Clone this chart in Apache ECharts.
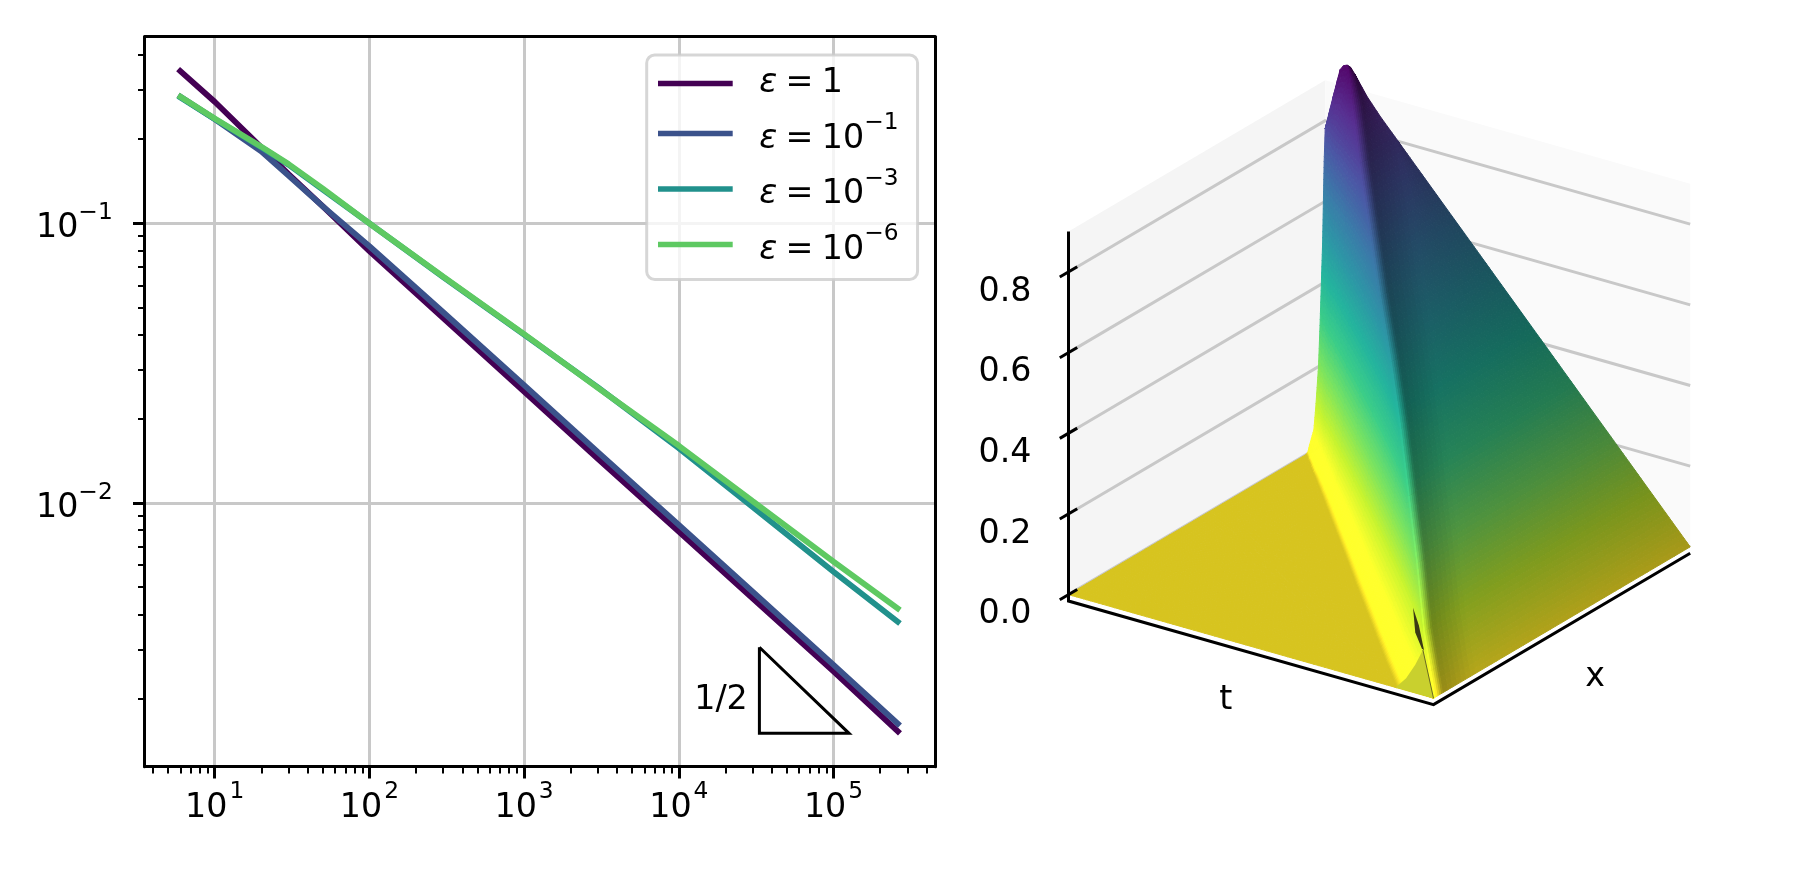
<!DOCTYPE html>
<html><head><meta charset="utf-8">
<style>html,body{margin:0;padding:0;background:#fff}#c{width:1800px;height:875px}</style>
<script src="https://cdn.jsdelivr.net/npm/echarts@6/dist/echarts.min.js"></script>
</head><body><div id="c"></div>
<script>
// ---- left panel data
var sampleX = [5.8,10,20,30,50,100,300,1000,3000,10000,30000,100000,269000];
var eps1 = [.356,.272,.187,.15,.115,.0796,.0458,.0250,.0144,.0079,.00456,.0025,.00150];
var eps1e1 = [.287,.236,.181,.148,.115,.0828,.0481,.0264,.0152,.00835,.00482,.00264,.0016];
var eps1e3 = [.285,.236,.187,.162,.132,.1,.0642,.04,.0259,.0157,.00968,.00568,.00371];
var eps1e6 = [.287,.237,.188,.163,.133,.1,.0645,.0402,.0258,.01603,.01016,.00617,.00414];
var seriesNames = ['e0','e1','e3','e6'];
var legendExp = ['', '−1', '−3', '−6'];
var seriesColors = ['#440154','#3b528b','#21918c','#5ec962'];
var triangleX = [33190,33190,126000,33190];
var triangleY = [.00305,.001502,.001502,.00305];
var triangleLabel = [18740,.001977,'1/2'];
var xMajor = [10,100,1000,10000,100000];
var yMajor = [.01,.1];
var xMinor = [4,5,6,7,8,9,20,30,40,50,60,70,80,90,200,300,400,500,600,700,800,900,2000,3000,4000,5000,6000,7000,8000,9000,20000,30000,40000,50000,60000,70000,80000,90000,200000,300000,400000];
var yMinor = [.002,.003,.004,.005,.006,.007,.008,.009,.02,.03,.04,.05,.06,.07,.08,.09,.2,.3,.4];
// ---- right panel data: surface u(t,x)
var surfT = [0,.022,.041,.05,.06,.07,.082,.115,.15,.2,.3,.4,.5,.6,.7,.8,.9,.96,1];
var surfX = [
[0,.926,.933,.94,.956,.963,.974,.98,.985,.99,.993,.996,1,1,1,1,1],
[0,.903,.91,.92,.936,.943,.954,.96,.966,.97,.974,.978,.984,1,1,1,1],
[0,.884,.892,.903,.919,.926,.937,.944,.949,.955,.958,.963,.969,1,1,1,1],
[0,.874,.882,.894,.91,.917,.928,.935,.94,.946,.95,.955,.962,1,1,1,1],
[0,.864,.872,.885,.901,.907,.919,.926,.932,.938,.942,.947,.955,1,1,1,1],
[0,.853,.862,.875,.891,.897,.909,.916,.922,.928,.932,.938,.947,.99,1,1,1],
[0,.841,.852,.862,.878,.887,.899,.906,.913,.919,.923,.929,.9385,.977,1,1,1],
[0,.807,.82,.829,.846,.857,.869,.876,.884,.89,.895,.903,.914,.942,.977,1,1],
[0,.771,.785,.795,.812,.824,.837,.845,.852,.859,.865,.873,.8875,.905,.94,1,1],
[0,.719,.735,.745,.762,.777,.79,.799,.808,.815,.821,.833,.85,.85,.885,1,1],
[0,.616,.632,.645,.667,.684,.698,.708,.718,.726,.733,.745,.745,.745,.78,.905,1],
[0,.513,.53,.545,.568,.589,.604,.616,.626,.635,.64,.64,.64,.64,.675,.8,1],
[0,.409,.427,.443,.468,.494,.51,.522,.533,.54,.54,.54,.54,.54,.575,.7,1],
[0,.306,.325,.343,.37,.398,.413,.425,.435,.435,.435,.435,.435,.435,.47,.595,1],
[0,.203,.222,.243,.272,.301,.316,.325,.325,.325,.325,.325,.325,.325,.36,.485,1],
[0,.1,.12,.142,.172,.202,.215,.215,.215,.215,.215,.215,.215,.215,.25,.375,1],
[0,0,.02,.045,.075,.1,.1,.1,.1,.1,.1,.1,.1,.1,.135,.26,1],
[0,0,.01,.02,.04,.04,.04,.04,.04,.04,.04,.04,.04,.04,.075,.2,1],
[0,0,0,0,0,0,0,0,0,0,0,0,0,0,.035,.16,1]];
var surfZ = [
[0,0,.004,.02,.05,.1,.2,.3,.4,.5,.6,.7,.78,.78,.78,.78,.78],
[0,0,.004,.02,.05,.1,.2,.3,.4,.5,.6,.7,.8,.866,.866,.866,.866],
[0,0,.004,.02,.05,.1,.2,.3,.4,.5,.6,.7,.8,.937,.937,.937,.937],
[0,0,.004,.02,.05,.1,.2,.3,.4,.5,.6,.7,.8,.949,.949,.949,.949],
[0,0,.004,.02,.05,.1,.2,.3,.4,.5,.6,.7,.8,.953,.953,.953,.953],
[0,0,.004,.02,.05,.1,.2,.3,.4,.5,.6,.7,.8,.95,.95,.95,.95],
[0,0,.004,.02,.05,.1,.2,.3,.4,.5,.6,.7,.8,.935,.935,.935,.935],
[0,0,.004,.02,.05,.1,.2,.3,.4,.5,.6,.7,.8,.889,.889,.889,.889],
[0,0,.004,.02,.05,.1,.2,.3,.4,.5,.6,.7,.8,.85,.85,.85,.85],
[0,0,.004,.02,.05,.1,.2,.3,.4,.5,.6,.7,.8,.8,.8,.8,.8],
[0,0,.004,.02,.05,.1,.2,.3,.4,.5,.6,.7,.7,.7,.7,.7,.7],
[0,0,.004,.02,.05,.1,.2,.3,.4,.5,.6,.6,.6,.6,.6,.6,.6],
[0,0,.004,.02,.05,.1,.2,.3,.4,.5,.5,.5,.5,.5,.5,.5,.5],
[0,0,.004,.02,.05,.1,.2,.3,.4,.4,.4,.4,.4,.4,.4,.4,.4],
[0,0,.004,.02,.05,.1,.2,.3,.3,.3,.3,.3,.3,.3,.3,.3,.3],
[0,0,.004,.02,.05,.1,.2,.2,.2,.2,.2,.2,.2,.2,.2,.2,.2],
[0,0,.004,.02,.05,.1,.1,.1,.1,.1,.1,.1,.1,.1,.1,.1,.1],
[0,0,.004,.02,.04,.04,.04,.04,.04,.04,.04,.04,.04,.04,.04,.04,.04],
[0,0,0,0,0,0,0,0,0,0,0,0,0,0,0,0,0]];
var columnShade = [.85,.85,1.12,1.14,1.12,1.1,1.1,1.12,1.14,1.16,1.18,1.2,1.22,1.22,.6,.72,.66];
var bumpPts = [[.896,0,0],[.925,0,.03],[.95,0,.07],[.971,0,.112],[.985,0,.06],[1,0,0]];
var slitPts = [[.944,0,.21],[.95,0,.15],[.968,0,.115],[.974,0,.112],[.96,0,.17]];
var zTicks = [0,.2,.4,.6,.8];
var zMax = .9;
var viridis = ['#fde725','#b5de2b','#6ece58','#35b779','#1f9e89','#26828e','#31688e','#3e4989','#482878','#440154'];

// ---- projection of (t,x,z) on the hidden axes of the right panel
function proj(t,x,z){ return [.5873*t+.413*x, z-.2568*t+.3752*x]; }
function hex(c){ return [parseInt(c.substr(1,2),16),parseInt(c.substr(3,2),16),parseInt(c.substr(5,2),16)]; }
var vir = viridis.map(hex);
function colour(z,s){
  var p=Math.min(Math.max(z/.96,0),1)*(vir.length-1), i=Math.min(Math.floor(p),vir.length-2), f=p-i;
  var c=[0,1,2].map(function(k){ return Math.min(255,Math.round((vir[i][k]*(1-f)+vir[i+1][k]*f)*s)); });
  return 'rgb('+c.join(',')+')';
}
var AXW=3, FS=33.3, GRID='#c8c8c8';
var font='"DejaVu Sans"';
function logLabel(v){
  var e=Math.round(Math.log10(v));
  return '{b|10}{s|'+String(e).replace('-','−')+'}';
}
var labelRich={b:{fontFamily:font,fontSize:FS,color:'#000',verticalAlign:'bottom',lineHeight:44},s:{fontFamily:font,fontSize:23.3,color:'#000',verticalAlign:'top',lineHeight:44}};
var labelRichX={b:labelRich.b,s:Object.assign({},labelRich.s,{padding:[0,0,0,2]})};

var cells=[];
for(var r=0;r<surfT.length-1;r++) for(var c=surfX[0].length-2;c>=0;c--) cells.push([r,c]);
var STEP=6;

function surfItem(params,api){
  var r=api.value(0),c=api.value(1),kids=[];
  var v=[[r,c],[r,c+1],[r+1,c+1],[r+1,c]].map(function(a){
    var z=surfZ[a[0]][a[1]];
    var p=api.coord(proj(surfT[a[0]],surfX[a[0]][a[1]],z));
    return {p:p,z:z,s:columnShade[a[1]]};
  });
  function dist(a,b){return Math.hypot(a.p[0]-b.p[0],a.p[1]-b.p[1]);}
  var lu=Math.max(dist(v[0],v[1]),dist(v[3],v[2])), lv=Math.max(dist(v[0],v[3]),dist(v[1],v[2]));
  if(lu<.2||lv<.2) return {type:'group',children:[]};
  var nu=Math.min(40,Math.max(5,Math.ceil(lu/STEP))), nv=Math.min(40,Math.max(1,Math.ceil(lv/STEP)));
  function at(u,w){
    var a=(1-u)*(1-w),b=u*(1-w),d=u*w,e=(1-u)*w;
    return {x:a*v[0].p[0]+b*v[1].p[0]+d*v[2].p[0]+e*v[3].p[0], y:a*v[0].p[1]+b*v[1].p[1]+d*v[2].p[1]+e*v[3].p[1],
            z:a*v[0].z+b*v[1].z+d*v[2].z+e*v[3].z, s:a*v[0].s+b*v[1].s+d*v[2].s+e*v[3].s};
  }
  for(var i=nu-1;i>=0;i--) for(var j=0;j<nv;j++){
    var p0=at(i/nu,j/nv),p1=at((i+1)/nu,j/nv),p2=at((i+1)/nu,(j+1)/nv),p3=at(i/nu,(j+1)/nv),m=at((i+.5)/nu,(j+.5)/nv);
    var col=colour(m.z,m.s);
    kids.push({type:'polygon',silent:true,shape:{points:[[p0.x,p0.y],[p1.x,p1.y],[p2.x,p2.y],[p3.x,p3.y]]},style:{fill:col,stroke:col,lineWidth:1}});
  }
  return {type:'group',children:kids};
}
function wallItem(params,api){
  var P=function(t,x,z){return api.coord(proj(t,x,z));};
  var kids=[];
  kids.push({type:'polygon',silent:true,shape:{points:[P(0,0,0),P(0,0,zMax),P(0,1,zMax),P(0,1,0)]},style:{fill:'#f5f5f5'}});
  kids.push({type:'polygon',silent:true,shape:{points:[P(0,1,0),P(0,1,zMax),P(1,1,zMax),P(1,1,0)]},style:{fill:'#fafafa'}});
  zTicks.forEach(function(z){
    kids.push({type:'polyline',silent:true,shape:{points:[P(0,0,z),P(0,1,z),P(1,1,z)]},style:{fill:null,stroke:GRID,lineWidth:AXW}});
  });
  return {type:'group',children:kids};
}
function axisItem(params,api){
  var P=function(t,x,z){return api.coord(proj(t,x,z));};
  var kids=[], o=-.016, st={fill:null,stroke:'#000',lineWidth:AXW};
  kids.push({type:'polyline',silent:true,shape:{points:[P(0,0,zMax),P(0,0,o),P(1,0,o),P(1,1,o)]},style:st});
  zTicks.forEach(function(z){
    var b=P(0,.034,z), d=P(0,-.034,z);
    kids.push({type:'line',silent:true,shape:{x1:d[0],y1:d[1],x2:b[0],y2:b[1]},style:{stroke:'#000',lineWidth:AXW}});
  });
  var pb=bumpPts.map(function(p){return P(p[0],p[1],p[2]);});
  kids.push({type:'polygon',silent:true,shape:{points:pb},style:{fill:'#c9d02e'}});
  kids.push({type:'polygon',silent:true,shape:{points:slitPts.map(function(p){return P(p[0],p[1],p[2]);})},style:{fill:'#3a3a14'}});
  kids.push({type:'line',silent:true,shape:{x1:pb[3][0],y1:pb[3][1],x2:pb[5][0],y2:pb[5][1]},style:{stroke:'#6a6a22',lineWidth:1}});
  var tp=P(.431,0,-.151), xp=P(1,.63,-.185);
  kids.push({type:'text',silent:true,style:{text:'t',x:tp[0],y:tp[1],font:FS+'px '+font,fill:'#000',textAlign:'center',textVerticalAlign:'middle'}});
  kids.push({type:'text',silent:true,style:{text:'x',x:xp[0],y:xp[1],font:FS+'px '+font,fill:'#000',textAlign:'center',textVerticalAlign:'middle'}});
  return {type:'group',children:kids};
}

var lineData=[eps1,eps1e1,eps1e3,eps1e6];
var series=lineData.map(function(vals,i){
  return {name:seriesNames[i],type:'line',xAxisIndex:0,yAxisIndex:0,showSymbol:false,symbol:'none',clip:true,
    lineStyle:{color:seriesColors[i],width:5.8,cap:'butt'},itemStyle:{color:seriesColors[i]},z:3,
    data:sampleX.map(function(x,k){return [x,vals[k]];})};
});
series.push({name:'slope',type:'line',xAxisIndex:0,yAxisIndex:0,symbol:'none',z:3,lineStyle:{color:'#000',width:AXW,join:'miter'},
  data:triangleX.map(function(x,k){return [x,triangleY[k]];})});
series.push({name:'slopeLabel',type:'scatter',xAxisIndex:0,yAxisIndex:0,symbolSize:0,z:3,itemStyle:{opacity:1},
  label:{show:true,position:'inside',formatter:triangleLabel[2],fontFamily:font,fontSize:FS,color:'#000',opacity:1,textBorderWidth:0},
  data:[[triangleLabel[0],triangleLabel[1]]]});
series.push({name:'walls',type:'custom',xAxisIndex:2,yAxisIndex:2,renderItem:wallItem,clip:false,silent:true,z:1,data:[[0,0]]});
series.push({name:'surface',type:'custom',xAxisIndex:2,yAxisIndex:2,renderItem:surfItem,clip:false,silent:true,z:2,data:cells,progressive:0,animation:false});
series.push({name:'axes3d',type:'custom',xAxisIndex:2,yAxisIndex:2,renderItem:axisItem,clip:false,silent:true,z:3,data:[[0,0]]});

var logXMin=3.528, logXMax=453000, logYMin=.001141, logYMax=.4648;
var legendTok={fontFamily:font,fontSize:FS,color:'#000',verticalAlign:'bottom',lineHeight:44};
var spine={show:true,onZero:false,lineStyle:{color:'#000',width:AXW}};
var option={
  animation:false,backgroundColor:'#fff',
  grid:[{left:144.7,top:36.7,width:790.3,height:730,containLabel:false},
        {left:1068.5,top:231.6,width:621.5,height:363,containLabel:false}],
  legend:{data:seriesNames,orient:'vertical',left:646.7,top:55,itemWidth:74.7,itemHeight:5.5,icon:'rect',itemGap:11.5,
    padding:[12,19,13,11.3],backgroundColor:'rgba(255,255,255,.8)',borderColor:'rgba(204,204,204,.8)',borderWidth:3,borderRadius:8,z:5,
    inactiveColor:'#000',selectedMode:false,
    formatter:function(n){
      var e=legendExp[seriesNames.indexOf(n)];
      return e? '{i|ε}{t|\u2005=\u200510}{s|'+e+'}' : '{i1|ε}{t1|\u2005=\u20051}';
    },
    textStyle:{padding:[0,0,0,21.6],rich:{
      i:Object.assign({},legendTok,{fontStyle:'italic'}),
      t:legendTok,
      i1:Object.assign({},legendTok,{fontStyle:'italic',verticalAlign:'middle',lineHeight:37.6}),
      t1:Object.assign({},legendTok,{verticalAlign:'middle',lineHeight:37.6}),
      s:{fontFamily:font,fontSize:23.3,color:'#000',verticalAlign:'top',lineHeight:44}}}},
  xAxis:[
   {type:'log',gridIndex:0,min:logXMin,max:logXMax,position:'bottom',z:2,
    axisLine:spine,
    axisTick:{show:true,inside:false,length:11.7,lineStyle:{color:'#000',width:AXW},customValues:xMajor},
    axisLabel:{show:true,margin:14,customValues:xMajor,formatter:logLabel,rich:labelRichX},
    splitLine:{show:true,lineStyle:{color:GRID,width:AXW}},minorTick:{show:false},minorSplitLine:{show:false}},
   {type:'log',gridIndex:0,min:logXMin,max:logXMax,position:'bottom',
    axisLine:{show:false,onZero:false},axisLabel:{show:false},splitLine:{show:false},
    axisTick:{show:true,length:6.7,lineStyle:{color:'#000',width:2},customValues:xMinor}},
   {type:'value',gridIndex:1,min:0,max:1,show:false},
   {type:'log',gridIndex:0,min:logXMin,max:logXMax,position:'top',z:2,
    axisLine:spine,axisLabel:{show:false},axisTick:{show:false},splitLine:{show:false}}],
  yAxis:[
   {type:'log',gridIndex:0,min:logYMin,max:logYMax,position:'left',z:2,
    axisLine:spine,
    axisTick:{show:true,length:11.7,lineStyle:{color:'#000',width:AXW},customValues:yMajor},
    axisLabel:{show:true,margin:32,customValues:yMajor,formatter:logLabel,rich:labelRich},
    splitLine:{show:true,lineStyle:{color:GRID,width:AXW}},minorTick:{show:false},minorSplitLine:{show:false}},
   {type:'log',gridIndex:0,min:logYMin,max:logYMax,position:'left',
    axisLine:{show:false,onZero:false},axisLabel:{show:false},splitLine:{show:false},
    axisTick:{show:true,length:6.7,lineStyle:{color:'#000',width:2},customValues:yMinor}},
   {type:'value',gridIndex:1,min:0,max:zMax,interval:.2,position:'left',
    axisLine:{show:false},axisTick:{show:false},splitLine:{show:false},
    axisLabel:{show:true,margin:37,verticalAlign:'top',lineHeight:40,fontFamily:font,fontSize:FS,color:'#000',formatter:function(v){return v>.85?'':v.toFixed(1);}}},
   {type:'log',gridIndex:0,min:logYMin,max:logYMax,position:'right',z:2,
    axisLine:spine,axisLabel:{show:false},axisTick:{show:false},splitLine:{show:false}}],
  series:series
};
var chart=echarts.init(document.getElementById('c'),null,{renderer:'canvas',width:1800,height:875});
chart.setOption(option);
</script></body></html>
